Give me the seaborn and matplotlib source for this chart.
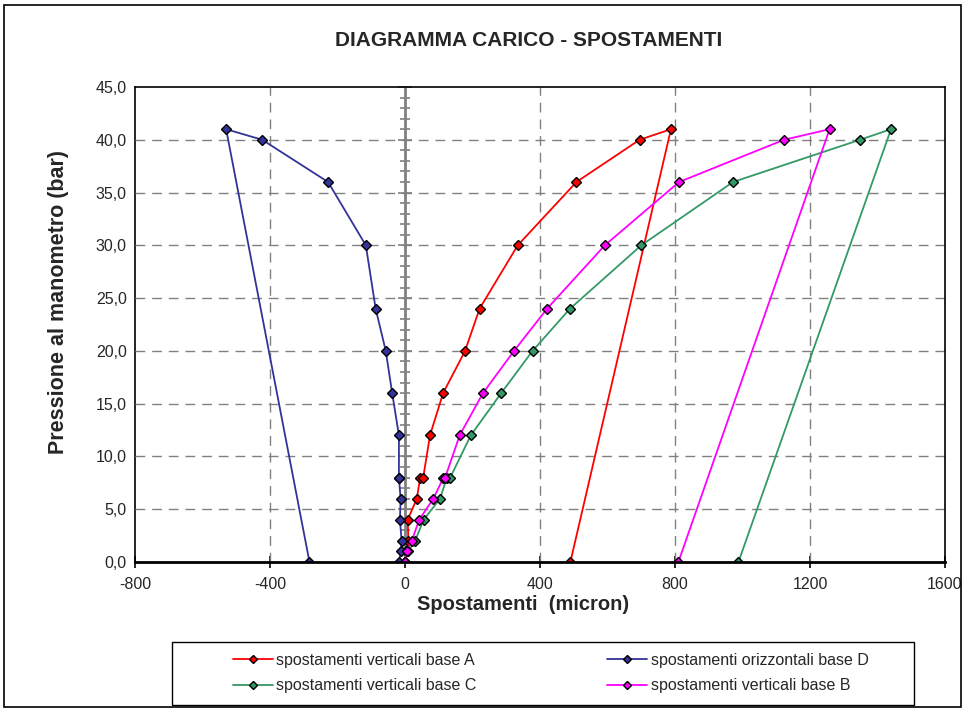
import numpy as np
import pandas as pd
import matplotlib
matplotlib.use("Agg")
import matplotlib.pyplot as plt
from matplotlib.patches import Rectangle
from matplotlib.ticker import MultipleLocator, FuncFormatter
import seaborn as sns

# ---- data (pressure in bar, displacement in micron) ----
pressione = [0, 1, 2, 4, 6, 8, 8, 12, 16, 20, 24, 30, 36, 40, 41, 0]
base_A = [0, 4, 10, 8, 35, 45, 54, 74, 113, 178, 221, 334, 508, 695, 788, 490]
base_D = [-18, -12, -10, -15, -13, -18, -18, -18, -38, -57, -87, -116, -228, -423, -530, -283]
base_C = [0, 9, 30, 55, 104, 124, 134, 195, 285, 378, 489, 700, 972, 1348, 1440, 988]
base_B = [0, 5, 20, 42, 84, 114, 119, 162, 231, 323, 421, 592, 812, 1123, 1258, 810]

series_names = ["spostamenti verticali base A", "spostamenti verticali base C",
                "spostamenti orizzontali base D", "spostamenti verticali base B"]
series_vals = [base_A, base_C, base_D, base_B]
colors = ["#FF0000", "#339966", "#333399", "#FF00FF"]

x_ticks = [-800, -400, 0, 400, 800, 1200, 1600]

rows = []
for name, vals in zip(series_names, series_vals):
    for i, (x, y) in enumerate(zip(vals, pressione)):
        rows.append({"serie": name, "x": x, "y": y, "ord": i})
df = pd.DataFrame(rows)

sns.set_style("white")
plt.rcParams["font.family"] = ["Liberation Sans", "DejaVu Sans"]

fig = plt.figure(figsize=(9.65, 7.08), dpi=100)
ax = fig.add_axes([135 / 965, (708 - 562) / 708, 810 / 965, 475 / 708])

sns.lineplot(data=df, x="x", y="y", hue="serie", hue_order=series_names,
             palette=colors, estimator=None, sort=False, units="serie",
             marker="D", markersize=4.7, markeredgecolor="black",
             markeredgewidth=1.0, linewidth=1.3, ax=ax, zorder=5)

ax.set_xlim(-800, 1600)
ax.set_ylim(0, 45)

# grid
gcol = "#808080"
for xv in x_ticks[1:-1]:
    if xv != 0:
        ax.axvline(xv, color=gcol, lw=1.0, ls=(0, (7, 5)), zorder=1)
for yv in range(5, 45, 5):
    ax.axhline(yv, color=gcol, lw=1.0, ls=(0, (7, 5)), zorder=1)

# spines
for s in ["top", "right"]:
    ax.spines[s].set_color("black")
    ax.spines[s].set_linewidth(1.2)
ax.spines["bottom"].set_color("black")
ax.spines["bottom"].set_linewidth(2.0)
ax.spines["bottom"].set_zorder(6)
ax.spines["left"].set_position(("data", 0))
ax.spines["left"].set_color(gcol)
ax.spines["left"].set_linewidth(2.0)

ax.yaxis.set_major_locator(MultipleLocator(5))
ax.yaxis.set_minor_locator(MultipleLocator(1))
ax.tick_params(axis="y", which="major", direction="inout", length=10, width=1.2,
               color=gcol, labelleft=False, left=True)
ax.tick_params(axis="y", which="minor", direction="inout", length=7, width=1.2,
               color=gcol, left=True)

ax.set_xticks(x_ticks)
ax.tick_params(axis="x", which="major", direction="inout", length=9, width=1.2,
               color="black", bottom=True, labelsize=11.5, pad=6)
ax.set_xticklabels([str(v) for v in x_ticks])

# y tick labels on the left frame edge
sec = ax.secondary_yaxis(0)
sec.set_yticks(list(range(0, 50, 5)))
sec.yaxis.set_major_formatter(FuncFormatter(lambda v, p: f"{v:.1f}".replace(".", ",")))
sec.tick_params(axis="y", length=0, labelsize=11.5, pad=6)
sec.spines["left"].set_color("black")
sec.spines["left"].set_linewidth(1.2)

ax.set_xlabel("")
ax.set_ylabel("")
fig.text(523 / 965, 1 - 605 / 708, "Spostamenti  (micron)",
         ha="center", va="center", fontsize=14.5, fontweight="bold")
fig.text(59 / 965, 1 - 302 / 708, "Pressione al manometro (bar)", rotation=90,
         ha="center", va="center", fontsize=15.5, fontweight="bold")
fig.text(529 / 965, 1 - 40 / 708, "DIAGRAMMA CARICO - SPOSTAMENTI",
         ha="center", va="center", fontsize=15, fontweight="bold")

# legend
handles, labels = ax.get_legend_handles_labels()
if ax.legend_:
    ax.legend_.remove()
leg = fig.legend(handles, labels, loc="center left",
                 bbox_to_anchor=(233 / 965, 1 - 673 / 708), ncol=2,
                 fontsize=11.5, frameon=False, borderaxespad=0, borderpad=0,
                 handlelength=2.5, handletextpad=0.2, columnspacing=8.2,
                 labelspacing=0.65)
for h in leg.legend_handles:
    h.set_markersize(4.2)

fig.patches.append(Rectangle((172 / 965, 1 - 705 / 708), 742 / 965, 63 / 708,
                             transform=fig.transFigure, fill=False,
                             edgecolor="black", lw=1.0))
fig.patches.append(Rectangle((4 / 965, 1 / 708), 957 / 965, 702 / 708,
                             transform=fig.transFigure, fill=False,
                             edgecolor="black", lw=1.2))

fig.savefig("out.png", dpi=100)
